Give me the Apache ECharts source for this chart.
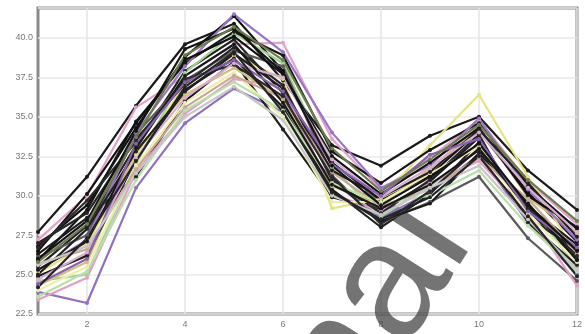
<!DOCTYPE html>
<html>
<head>
<meta charset="utf-8">
<script src="https://cdn.jsdelivr.net/npm/echarts@6/dist/echarts.min.js"></script>
<style>
  html, body { margin: 0; padding: 0; background: #fff; }
  #main { width: 585px; height: 334px; }
</style>
</head>
<body>
<div id="main"></div>
<script>
// x positions
const xs = [1, 2, 3, 4, 5, 6, 7, 8, 9, 10, 11, 12]

// one row per line
const values = [
  [27.7, 31.2, 35.7, 39.6, 40.9, 37.3, 33.2, 31.9, 33.8, 35.0, 31.6, 29.1],
  [23.9, 23.2, 30.5, 34.6, 36.8, 35.3, 30.9, 28.6, 30.2, 32.6, 28.3, 25.0],
  [26.8, 29.4, 34.3, 38.8, 41.4, 37.9, 32.1, 29.7, 31.3, 34.1, 30.2, 27.1],
  [27.2, 30.0, 35.6, 37.6, 39.6, 39.7, 33.6, 30.4, 32.4, 34.8, 30.9, 28.2],
  [25.1, 26.9, 32.6, 37.0, 38.9, 37.4, 29.2, 29.8, 33.2, 36.4, 31.2, 26.3],
  [25.5, 28.1, 33.2, 37.9, 39.9, 36.5, 30.4, 28.0, 30.1, 33.4, 29.1, 26.0],
  [24.6, 25.0, 32.0, 37.8, 40.3, 38.4, 31.8, 28.7, 30.6, 32.9, 29.6, 25.4],
  [26.3, 28.6, 31.2, 36.0, 38.5, 34.2, 29.9, 29.1, 30.9, 33.7, 28.6, 26.6],
  [24.3, 25.8, 32.9, 36.4, 38.1, 36.1, 30.6, 29.4, 31.7, 34.4, 29.9, 27.6],
  [25.9, 29.1, 34.7, 38.4, 40.4, 38.9, 32.8, 30.8, 32.9, 34.6, 30.6, 27.9],
  [26.1, 27.5, 33.9, 37.3, 39.2, 38.2, 31.3, 28.3, 29.6, 31.2, 27.3, 24.6],
  [23.4, 24.8, 31.5, 35.2, 37.4, 36.9, 30.1, 29.0, 30.8, 32.2, 28.9, 24.3],
  [27.0, 28.9, 33.6, 37.1, 39.4, 37.0, 31.0, 28.9, 31.0, 33.9, 28.3, 25.6],
  [25.3, 27.2, 34.0, 38.2, 41.5, 39.1, 34.0, 30.5, 31.9, 34.9, 30.4, 27.2],
  [24.9, 26.2, 32.3, 36.7, 38.7, 35.6, 30.3, 28.4, 29.5, 32.7, 29.3, 26.9],
  [24.0, 25.5, 31.9, 35.9, 37.8, 35.0, 29.6, 29.6, 31.4, 33.1, 28.8, 25.8],
  [26.5, 30.1, 34.6, 38.6, 40.1, 37.7, 32.5, 30.1, 32.1, 34.3, 30.0, 28.0],
  [25.7, 26.6, 31.7, 35.6, 37.6, 36.2, 31.5, 29.3, 30.4, 32.4, 29.8, 26.4],
  [25.0, 27.9, 32.8, 36.6, 39.0, 36.8, 31.6, 29.9, 31.5, 34.2, 30.8, 27.4],
  [23.6, 25.2, 31.0, 35.4, 37.2, 35.4, 30.8, 29.5, 30.0, 31.6, 28.1, 25.2],
  [26.7, 29.7, 33.4, 37.4, 38.3, 36.3, 31.2, 28.2, 30.3, 33.0, 29.2, 26.2],
  [24.7, 26.4, 32.4, 36.2, 38.4, 37.5, 32.3, 29.9, 31.8, 34.0, 30.5, 27.7],
  [25.3, 27.1, 33.0, 37.6, 39.6, 35.9, 30.7, 29.2, 30.7, 32.9, 29.5, 25.9],
  [24.4, 26.0, 33.3, 37.2, 38.6, 36.6, 32.0, 30.0, 32.6, 33.6, 29.0, 26.7],
  [26.0, 28.4, 34.1, 39.3, 40.6, 37.8, 31.9, 29.4, 31.2, 33.3, 29.4, 26.5],
  [25.6, 26.8, 31.4, 35.0, 36.9, 34.8, 30.0, 28.8, 30.5, 31.9, 28.5, 25.3],
  [24.2, 27.3, 32.2, 36.9, 39.1, 35.3, 30.2, 28.5, 29.9, 32.5, 28.7, 24.9],
  [25.8, 28.2, 33.7, 38.9, 40.7, 38.6, 33.0, 30.3, 32.3, 34.5, 31.0, 28.4]
]

const lineColors = [
  '#1a1a1a', '#9070c0', '#111111', '#e3a2c8', '#e6e47e', '#222222', '#9ed493',
  '#1e1e1e', '#d2bf7a', '#161616', '#5a5a5a', '#e0a0c4', '#262626', '#9b73c8',
  '#1c1c1c', '#eeeeac', '#121212', '#c8a890', '#202020', '#b8e0a8', '#2a2a2a',
  '#d8aed0', '#181818', '#8a60b0', '#141414', '#c6c6c6', '#242424', '#6c7c4c'
]

const xLabels = ['2', '4', '6', '8', '10', '12']

const chart = echarts.init(document.getElementById('main'))

const series = values.map((row, i) => ({
  type: 'line',
  z: 3,
  data: row.map((v, j) => [xs[j], v]),
  symbol: 'circle',
  symbolSize: 4,
  lineStyle: { color: lineColors[i], width: 2.2 },
  itemStyle: { color: lineColors[i] },
  animation: false
}))

chart.setOption({
  animation: false,
  grid: {
    left: 38, right: 7, top: 8, bottom: 20,
    show: true,
    borderColor: '#8a8a8a',
    borderWidth: 3
  },
  xAxis: {
    type: 'value',
    min: 1, max: 12, interval: 1,
    axisLine: { show: false },
    axisTick: { show: false },
    axisLabel: {
      color: '#777', fontSize: 9, margin: 6,
      formatter: v => xLabels.indexOf(String(v)) >= 0 ? String(v) : ''
    },
    splitLine: { show: true, lineStyle: { color: ['rgba(0,0,0,0)', '#e4e4e4'], width: 1.5 } }
  },
  yAxis: {
    type: 'value',
    min: 22.5, max: 41.9, interval: 2.5,
    axisLine: { show: false },
    axisTick: { show: false },
    axisLabel: {
      color: '#777', fontSize: 9, margin: 5,
      showMaxLabel: false,
      formatter: v => v.toFixed(1)
    },
    splitLine: { show: true, lineStyle: { color: '#e8e8e8', width: 1.5 } }
  },
  // watermark, drawn under the lines
  graphic: [{
    type: 'text',
    x: 415, y: 357,
    rotation: 1.0,
    z: 1,
    style: {
      text: 'nal',
      x: -92, y: -58,
      font: '165px "Liberation Sans"',
      fill: 'rgba(70,70,70,0.75)',
      textAlign: 'left',
      textVerticalAlign: 'middle'
    }
  }],
  series
})
</script>
</body>
</html>
